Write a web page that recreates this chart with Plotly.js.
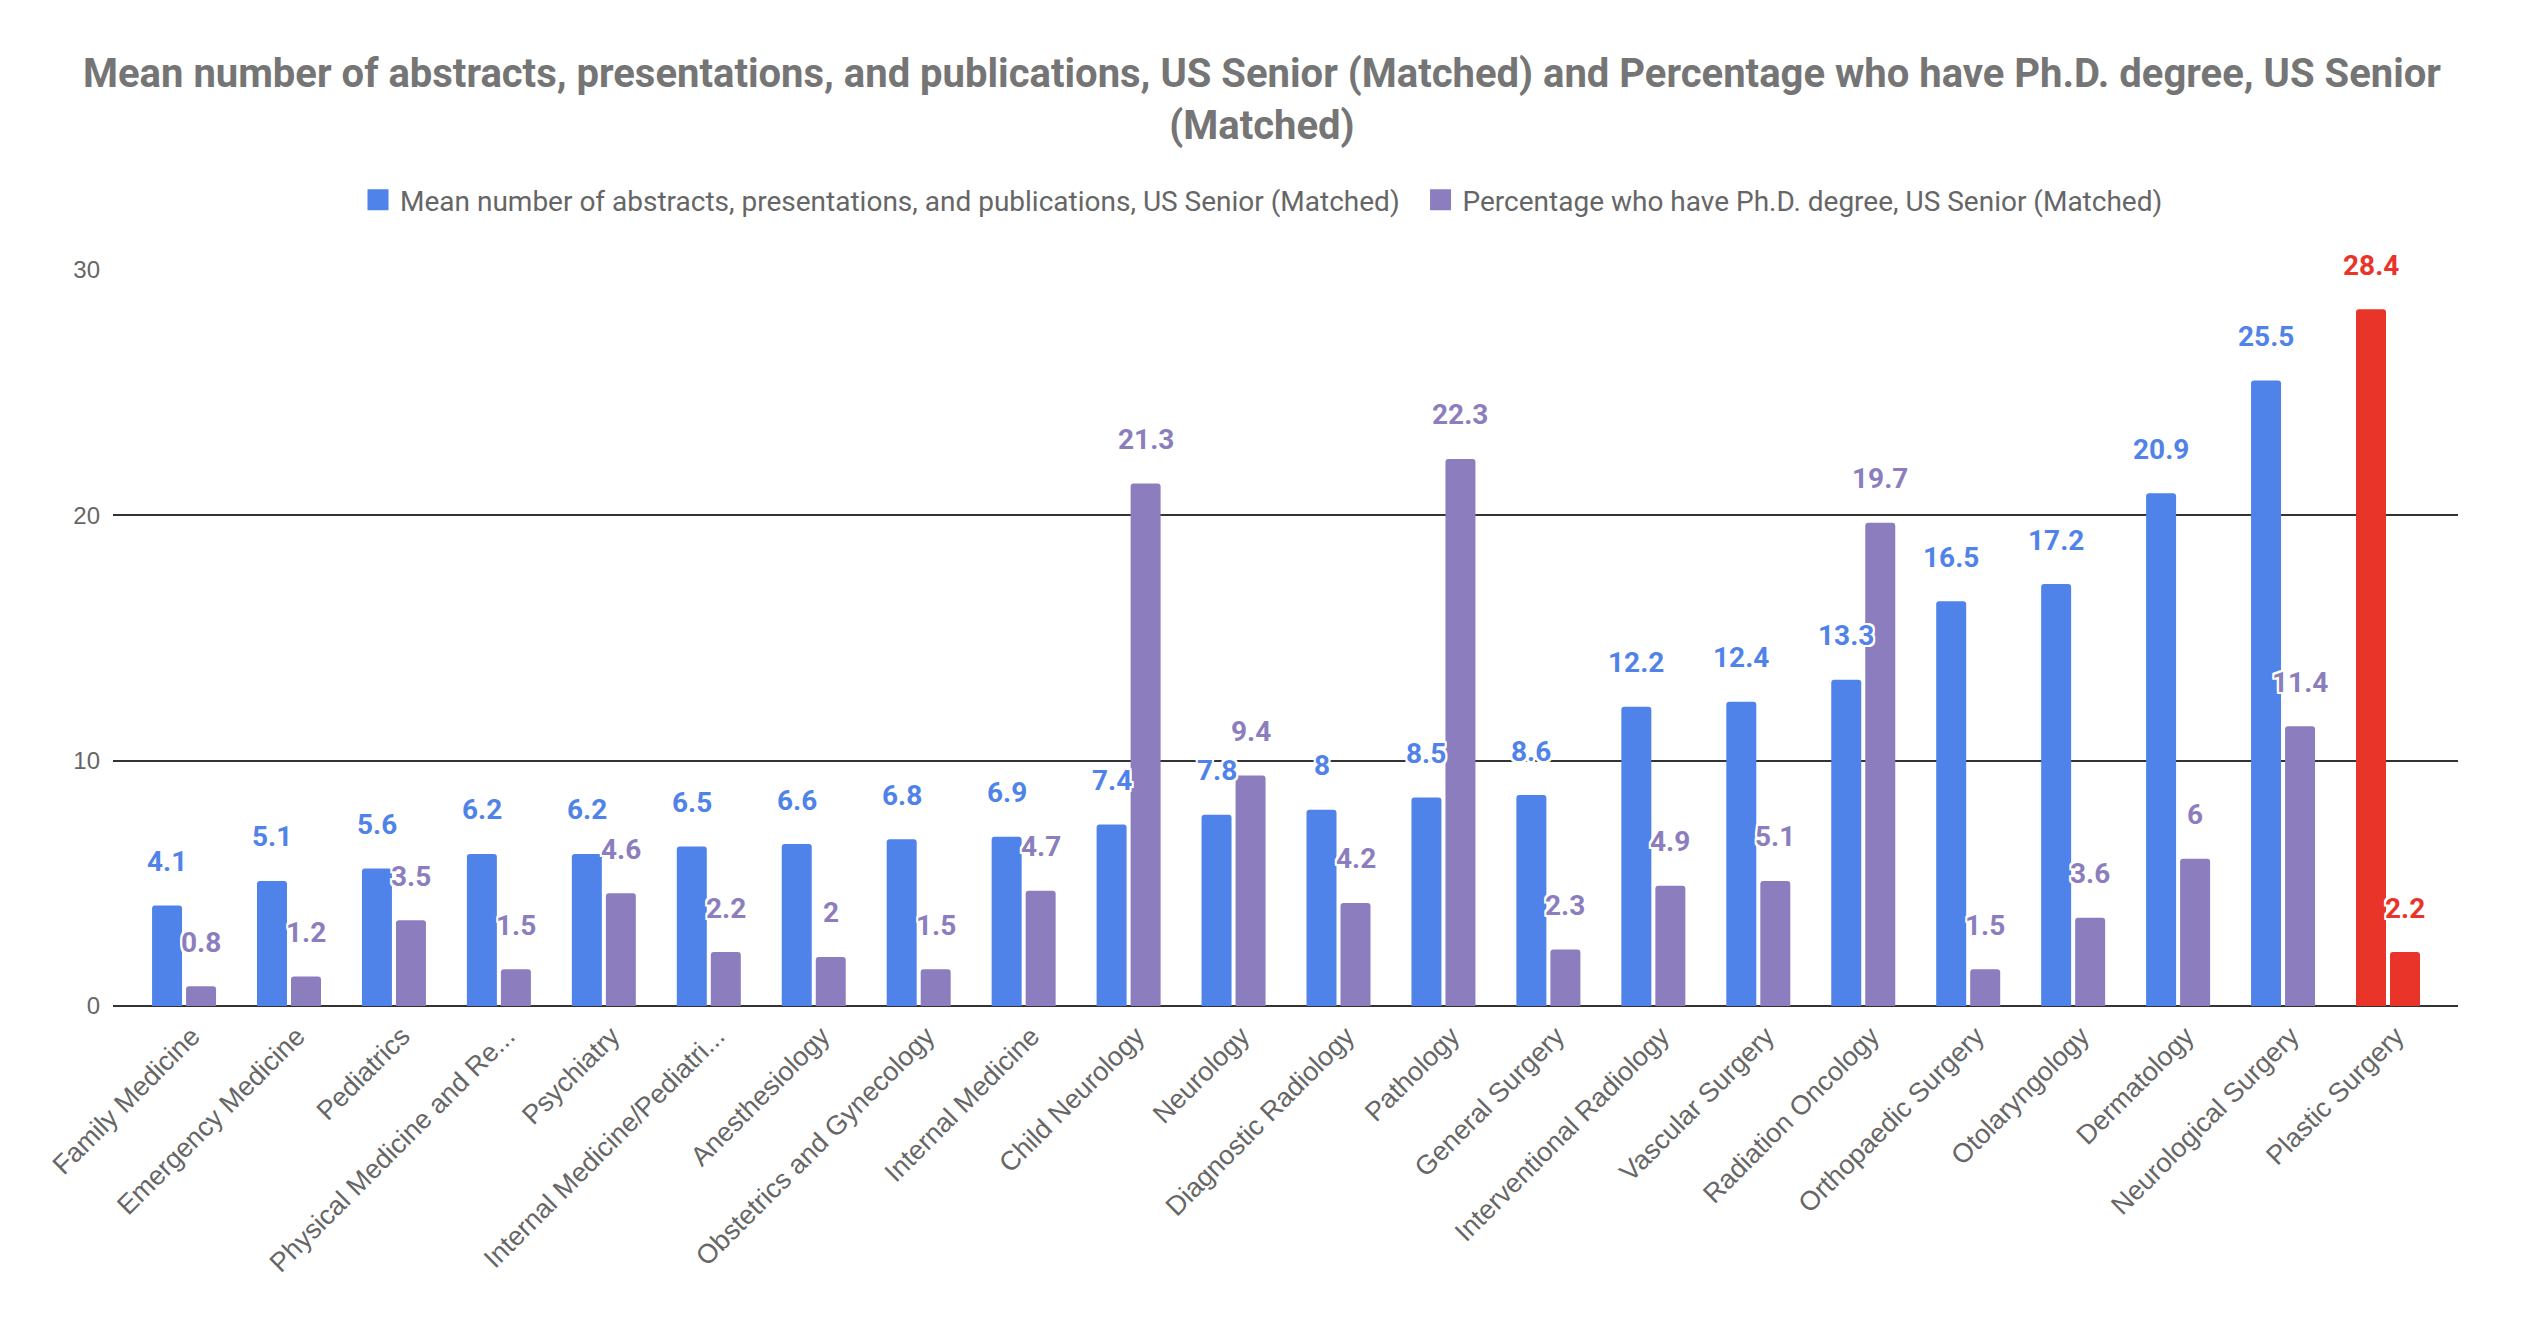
<!DOCTYPE html>
<html>
<head>
<meta charset="utf-8">
<script src="https://cdn.plot.ly/plotly-3.0.1.min.js"></script>
<style>html,body{margin:0;padding:0;background:#fff;}#chart{width:2524px;height:1342px;}</style>
</head>
<body>
<div id="chart"></div>
<script>
const specialties = [
  "Family Medicine", "Emergency Medicine", "Pediatrics", "Physical Medicine and Re...",
  "Psychiatry", "Internal Medicine/Pediatri...", "Anesthesiology", "Obstetrics and Gynecology",
  "Internal Medicine", "Child Neurology", "Neurology", "Diagnostic Radiology", "Pathology",
  "General Surgery", "Interventional Radiology", "Vascular Surgery", "Radiation Oncology",
  "Orthopaedic Surgery", "Otolaryngology", "Dermatology", "Neurological Surgery", "Plastic Surgery"
];
const meanAbstracts = [4.1, 5.1, 5.6, 6.2, 6.2, 6.5, 6.6, 6.8, 6.9, 7.4, 7.8, 8, 8.5, 8.6, 12.2, 12.4, 13.3, 16.5, 17.2, 20.9, 25.5, 28.4];
const pctPhD = [0.8, 1.2, 3.5, 1.5, 4.6, 2.2, 2, 1.5, 4.7, 21.3, 9.4, 4.2, 22.3, 2.3, 4.9, 5.1, 19.7, 1.5, 3.6, 6, 11.4, 2.2];
const highlighted = ["Plastic Surgery"];
const seriesNames = [
  "Mean number of abstracts, presentations, and publications, US Senior (Matched)",
  "Percentage who have Ph.D. degree, US Senior (Matched)"
];
const yTicks = [0, 10, 20, 30];

const BLUE = "#5083e9", PURPLE = "#8c7ebe", RED = "#e9342a";
const colA = specialties.map(s => highlighted.includes(s) ? RED : BLUE);
const colB = specialties.map(s => highlighted.includes(s) ? RED : PURPLE);

const traces = [
  {type: "bar", name: seriesNames[0], x: specialties, y: meanAbstracts,
   marker: {color: colA}, hoverinfo: "skip", showlegend: false},
  {type: "bar", name: seriesNames[1], x: specialties, y: pctPhD,
   marker: {color: colB}, hoverinfo: "skip", showlegend: false},
  // legend entries (larger square swatches, no data drawn)
  {type: "scatter", mode: "markers", name: seriesNames[0] + "  ", x: [null], y: [null],
   marker: {symbol: "square", size: 16, color: BLUE, line: {color: BLUE, width: 5}}, hoverinfo: "skip"},
  {type: "scatter", mode: "markers", name: seriesNames[1], x: [null], y: [null],
   marker: {symbol: "square", size: 16, color: PURPLE, line: {color: PURPLE, width: 5}}, hoverinfo: "skip"}
];

const halo = "2px 0 0 #fff, -2px 0 0 #fff, 0 2px 0 #fff, 0 -2px 0 #fff, 2px 2px 0 #fff, -2px -2px 0 #fff, 2px -2px 0 #fff, -2px 2px 0 #fff";
const annotations = [];
specialties.forEach((s, i) => {
  annotations.push({x: s, y: meanAbstracts[i], xref: "x", yref: "y", text: String(meanAbstracts[i]),
    showarrow: false, xshift: -17, yshift: 44, yanchor: "middle",
    font: {family: "Roboto", size: 28, weight: 700, color: colA[i], shadow: halo}});
  annotations.push({x: s, y: pctPhD[i], xref: "x", yref: "y", text: String(pctPhD[i]),
    showarrow: false, xshift: 17, yshift: 44, yanchor: "middle",
    font: {family: "Roboto", size: 28, weight: 700, color: colB[i], shadow: halo}});
});

const layout = {
  width: 2524, height: 1342,
  paper_bgcolor: "#fff", plot_bgcolor: "#fff",
  margin: {l: 113, r: 66, t: 270, b: 336},
  title: {
    text: "Mean number of abstracts, presentations, and publications, US Senior (Matched) and Percentage who have Ph.D. degree, US Senior<br>(Matched)",
    font: {family: "Roboto", size: 40, weight: 700, color: "#757575"},
    x: 0.5, xref: "container", xanchor: "center",
    y: 1 - 87/1342, yref: "container", yanchor: "middle"
  },
  showlegend: true,
  legend: {orientation: "h", x: 0.5, xref: "container", xanchor: "center",
    y: 1 - 200/1342, yref: "container", yanchor: "middle", itemwidth: 34,
    font: {family: "Roboto", size: 28, color: "#666"}, traceorder: "normal"},
  barmode: "group", bargap: 0.352, bargroupgap: 0.118, barcornerradius: 3,
  xaxis: {type: "category", range: [-0.677, 21.667], tickangle: -45,
    tickfont: {family: "Liberation Sans, Arial", size: 27, color: "#666"},
    showgrid: false, zeroline: false, showline: false, ticks: "", automargin: false,
    ticklabelstandoff: 8, ticklabelshift: 8},
  yaxis: {range: [0, 30], tickvals: yTicks, ticktext: yTicks.map(String),
    tickfont: {family: "Liberation Sans, Arial", size: 24, color: "#666"},
    showgrid: true, gridcolor: "#333", gridwidth: 2,
    zeroline: true, zerolinecolor: "#333", zerolinewidth: 2.5,
    showline: false, ticks: "", ticklabelstandoff: 12, automargin: false},
  annotations: annotations
};

Plotly.newPlot("chart", traces, layout, {displayModeBar: false, staticPlot: true});
</script>
</body>
</html>
